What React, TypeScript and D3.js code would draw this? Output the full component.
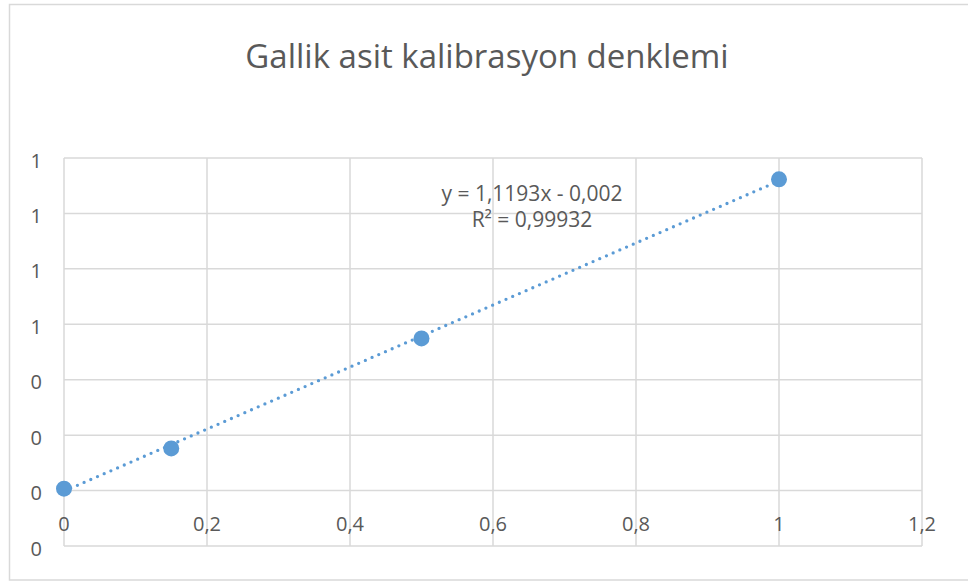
import React from "react";
import * as d3 from "d3";

const title = "Gallik asit kalibrasyon denklemi";
const xValues = [0, 0.15, 0.5, 1];
const yValues = [0.007, 0.152, 0.549, 1.123];
const xTicks = [0, 0.2, 0.4, 0.6, 0.8, 1, 1.2];
const yTicks = [-0.2, 0, 0.2, 0.4, 0.6, 0.8, 1, 1.2];
const slope = 1.1193;
const intercept = -0.002;
const equationLines = ["y = 1,1193x - 0,002", "R² = 0,99932"];

const W = 968;
const H = 581;
const plot = { left: 64, right: 922, top: 158, bottom: 546 };
const FONT = "Open Sans, Liberation Sans, sans-serif";
const TEXT = "#595959";
const GRID = "#d9d9d9";
const BLUE = "#5b9bd5";

export default function App() {
  const x = d3.scaleLinear().domain([0, 1.2]).range([plot.left, plot.right]);
  const y = d3.scaleLinear().domain([-0.2, 1.2]).range([plot.bottom, plot.top]);
  const fmtX = (v: number) => String(v).replace(".", ",");
  const fmtY = (v: number) => String(Math.abs(Math.round(v)));
  const trend = d3
    .line<number>()
    .x((v) => x(v))
    .y((v) => y(slope * v + intercept));
  const points = xValues.map((xv, i) => ({ xv, yv: yValues[i] }));
  return (
    <svg
      width={W}
      height={H}
      style={{ position: "absolute", left: 0, top: 0, background: "#fff" }}
      fontFamily={FONT}
    >
      <rect x={9.5} y={4.5} width={W} height={575.5} fill="#fff" stroke={GRID} strokeWidth={1.5} />
      <text x={487} y={55} textAnchor="middle" dominantBaseline="central" fontSize={33} fill={TEXT}>
        {title}
      </text>
      {yTicks.map((t) => (
        <line key={"gy" + t} x1={plot.left} x2={plot.right} y1={y(t)} y2={y(t)} stroke={GRID} strokeWidth={1.5} />
      ))}
      {xTicks.map((t) => (
        <line key={"gx" + t} x1={x(t)} x2={x(t)} y1={plot.top} y2={plot.bottom} stroke={GRID} strokeWidth={1.5} />
      ))}
      {yTicks.map((t) => (
        <text key={"ly" + t} x={42} y={y(t) + 2} textAnchor="end" dominantBaseline="central" fontSize={20} fill={TEXT}>
          {fmtY(t)}
        </text>
      ))}
      {xTicks.map((t) => (
        <text key={"lx" + t} x={x(t)} y={y(0) + 33} textAnchor="middle" dominantBaseline="central" fontSize={20} fill={TEXT}>
          {fmtX(t)}
        </text>
      ))}
      <path
        d={trend([0, 1]) || ""}
        fill="none"
        stroke={BLUE}
        strokeWidth={3.3}
        strokeLinecap="round"
        strokeDasharray="0 7.3"
      />
      {points.map((p, i) => (
        <circle key={i} cx={x(p.xv)} cy={y(p.yv)} r={8} fill={BLUE} />
      ))}
      {equationLines.map((s, i) => (
        <text key={s} x={532} y={193 + i * 26} textAnchor="middle" dominantBaseline="central" fontSize={21} fill={TEXT}>
          {s}
        </text>
      ))}
    </svg>
  );
}
